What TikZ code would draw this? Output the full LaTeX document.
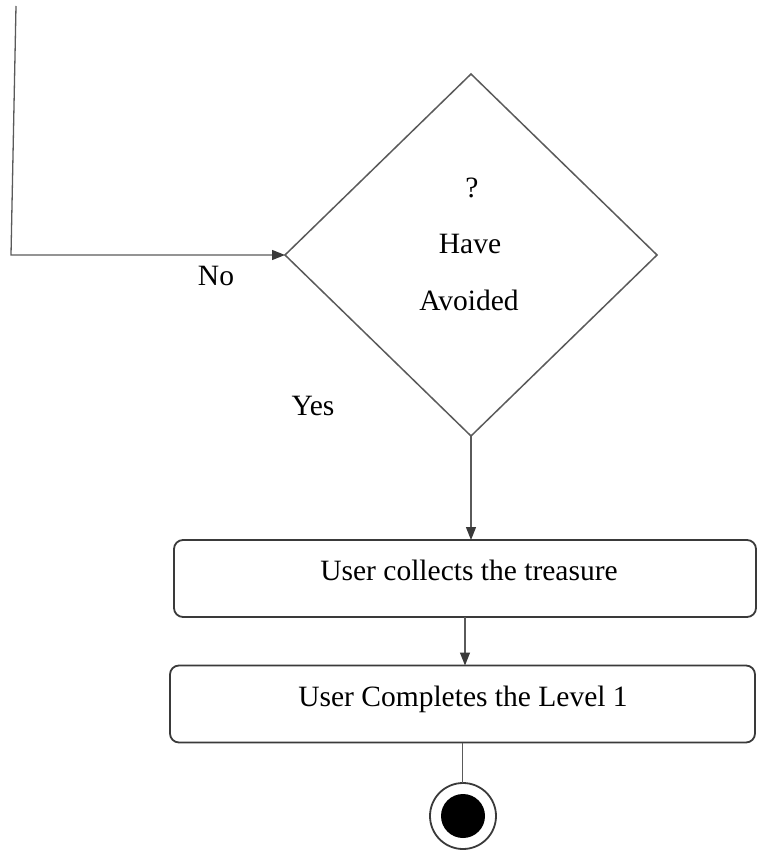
\documentclass[tikz,border=0pt]{standalone}
\usepackage{fontspec}
\setmainfont{Liberation Serif}
\usetikzlibrary{shapes.geometric,arrows.meta}
\definecolor{linegray}{HTML}{5A5A5A}
\definecolor{edgedark}{HTML}{3A3A3A}
\begin{document}
\begin{tikzpicture}[x=1pt,y=-1pt,
  txt/.style={font=\fontsize{29.5}{35}\selectfont, inner sep=0pt, text=black, anchor=base},
  flow/.style={draw=linegray, line width=1.3pt,
    -{Triangle[length=13pt,width=10pt,color=edgedark]}},
  plain/.style={draw=linegray, line width=1.3pt},
  activity/.style={draw=edgedark, line width=1.8pt, rounded corners=9pt,
    minimum height=77pt, inner sep=0pt, outer sep=0pt},
  decision/.style={diamond, draw=linegray, line width=1.5pt, inner sep=0pt,
    outer sep=0pt, minimum width=372pt, minimum height=362pt},
]
\useasboundingbox (0,0) rectangle (758,850);

% decision and its question
\node[decision] (dec) at (471,255) {};
\node[txt] (qmark) at (472,197) {?};
\node[txt] (qhave) at (470,253) {Have};
\node[txt] (qavoid) at (469,310) {Avoided};

% "No" branch loops back into the decision from the left
\coordinate (looptop) at (16,6);
\coordinate (loopcorner) at (11,255);
\draw[flow] (looptop) -- (loopcorner) -- (dec.west);
\node[txt] (nolbl) at (216,285) {No};
\node[txt] (yeslbl) at (313,415) {Yes};

% activities
\node[activity, minimum width=582pt] (collect) at (465,578.5) {};
\node[txt] (collecttxt) at (469,580) {User collects the treasure};
\node[activity, minimum width=585pt] (complete) at (462.5,704) {};
\node[txt] (completetxt) at (463,706) {User Completes the Level 1};

% final node
\node[circle, draw=edgedark, line width=1.8pt, minimum size=66pt, inner sep=0pt, outer sep=0pt] (finish) at (463,816) {};
\node[circle, fill=black, minimum size=44pt, inner sep=0pt] (finishdot) at (finish.center) {};

% connectors
\draw[flow] (dec.south) -- (dec.south |- collect.north);
\draw[flow] (collect.south) -- (collect.south |- complete.north);
\draw[plain] (complete.south) -- (complete.south |- finish.north);
\end{tikzpicture}
\end{document}
